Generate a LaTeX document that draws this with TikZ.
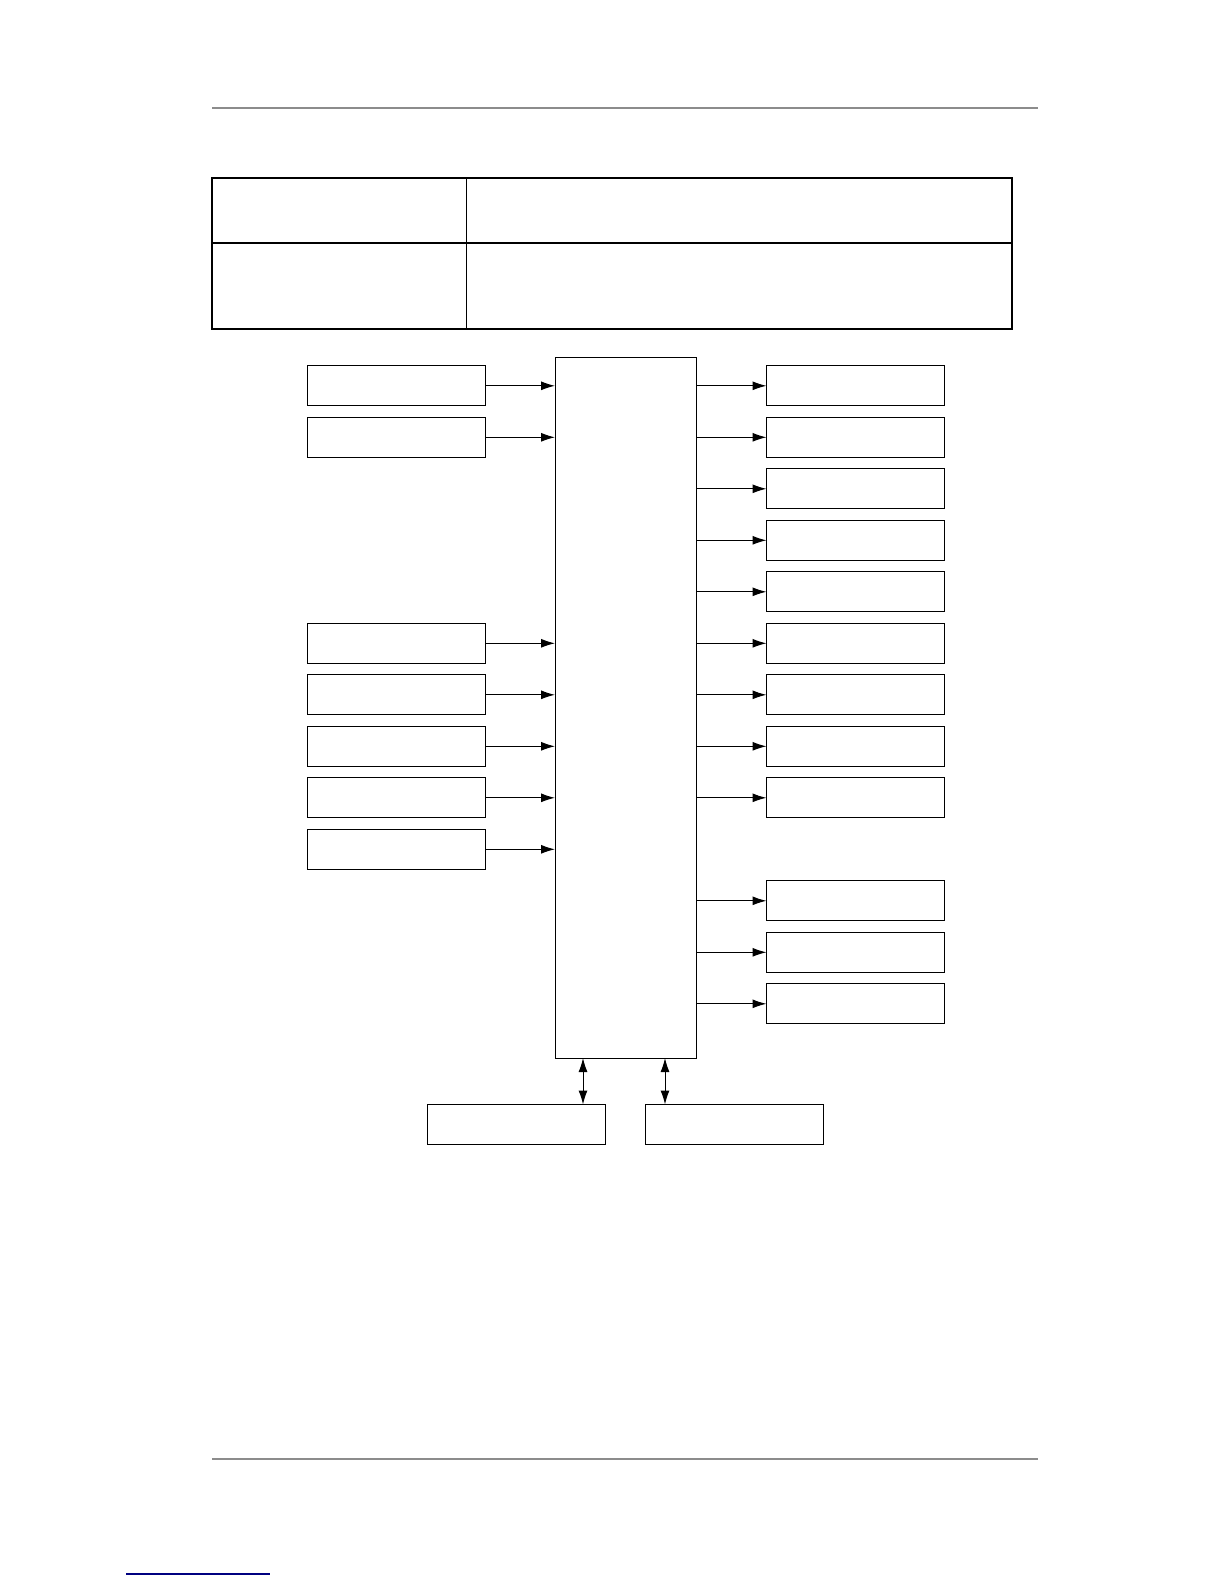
\documentclass[tikz,border=0pt]{standalone}
\usetikzlibrary{arrows.meta}

\tikzset{
  blk/.style={draw=black, line width=0.5pt, minimum width=89pt, minimum height=20pt, inner sep=0pt, outer sep=0pt},
  arr/.style={line width=0.5pt, -{Latex[length=7pt,width=4.5pt]}},
  darr/.style={line width=0.5pt, {Latex[length=7pt,width=4.5pt]}-{Latex[length=7pt,width=4.5pt]}},
  rule/.style={draw=black!45, line width=0.6pt}
}

\begin{document}
\begin{tikzpicture}[x=0.5pt,y=-0.5pt]
\useasboundingbox (0,0) rectangle (1224,1584);

\draw[rule] (212,108) -- (1038,108);
\draw[rule] (212,1459) -- (1038,1459);
\draw[draw=blue!50!black, line width=0.7pt] (126,1574) -- (270,1574);

\draw[line width=0.7pt] (212,178) rectangle (1012,329);
\draw[line width=0.7pt] (212,243) -- (1012,243);
\draw[line width=0.5pt] (466,178) -- (466,329);

\node[blk, minimum width=70.5pt, minimum height=350.5pt] (core) at (625.5,707.5) {};

\foreach \k in {0,1,5,6,7,8,9}{
  \node[blk] (l\k) at (396,{385.8+51.5*\k}) {};
  \draw[arr] (l\k.east) -- (l\k.east -| core.west);
}
\foreach \k in {0,1,2,3,4,5,6,7,8,10,11,12}{
  \node[blk] (r\k) at (855.5,{385.8+51.5*\k}) {};
  \draw[arr] (r\k.west -| core.east) -- (r\k.west);
}

\node[blk] (b1) at (516.5,1124.5) {};
\node[blk] (b2) at (734.5,1124.5) {};
\coordinate (p1) at (583,0);
\coordinate (p2) at (665,0);
\draw[darr] (p1 |- core.south) -- (p1 |- b1.north);
\draw[darr] (p2 |- core.south) -- (p2 |- b2.north);
\end{tikzpicture}
\end{document}
